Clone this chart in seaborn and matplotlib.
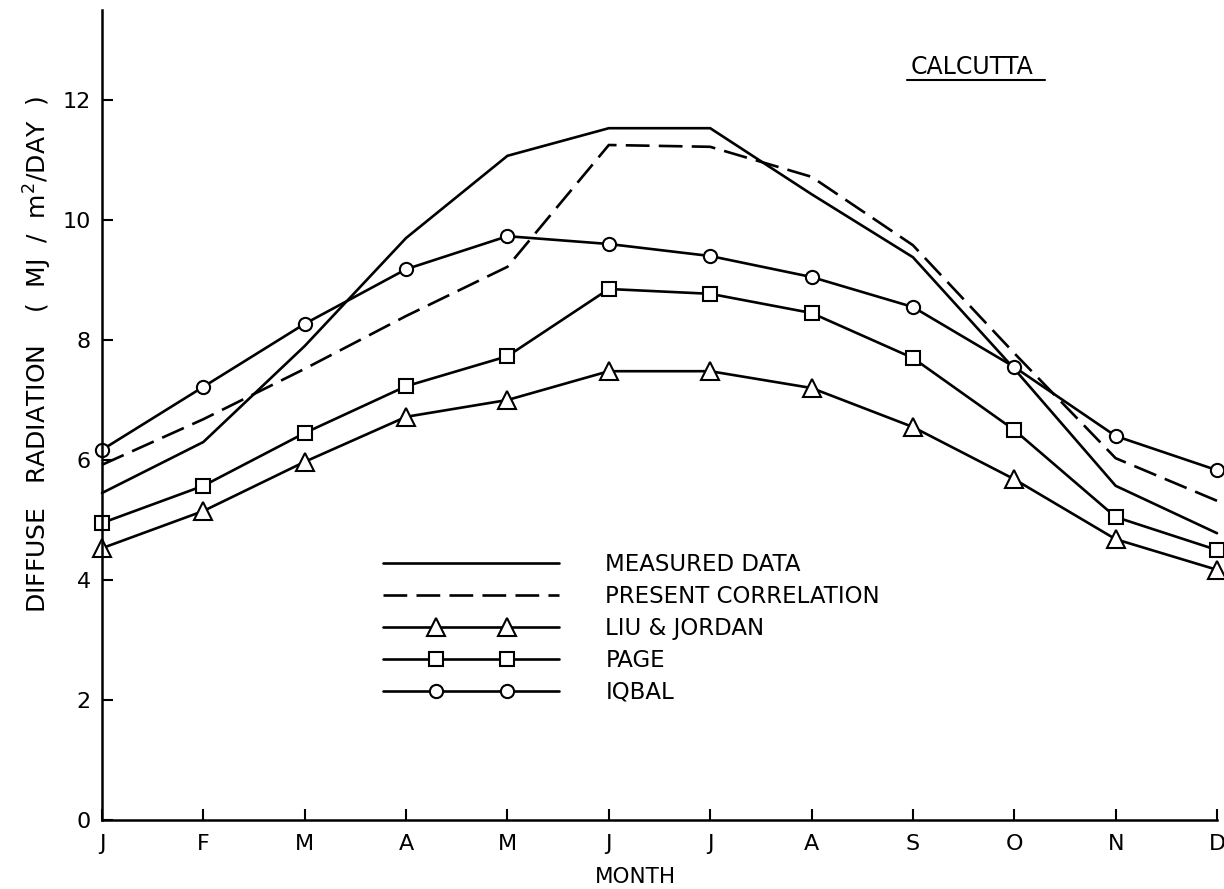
import numpy as np
import pandas as pd
import matplotlib
matplotlib.use("Agg")
import matplotlib.pyplot as plt
from matplotlib.lines import Line2D
from matplotlib.legend_handler import HandlerLine2D
from matplotlib.transforms import IdentityTransform
import seaborn as sns

# ---- data ----
months = ["J", "F", "M", "A", "M", "J", "J", "A", "S", "O", "N", "D"]
measured = [5.45, 6.30, 7.90, 9.70, 11.07, 11.53, 11.53, 10.43, 9.38, 7.52, 5.57, 4.78]
present = [5.92, 6.68, 7.52, 8.40, 9.22, 11.25, 11.22, 10.72, 9.58, 7.78, 6.03, 5.32]
liu_jordan = [4.53, 5.15, 5.97, 6.72, 7.00, 7.48, 7.48, 7.20, 6.55, 5.68, 4.68, 4.17]
page = [4.95, 5.57, 6.45, 7.23, 7.73, 8.85, 8.77, 8.45, 7.70, 6.50, 5.05, 4.50]
iqbal = [6.17, 7.22, 8.27, 9.18, 9.73, 9.60, 9.40, 9.05, 8.55, 7.55, 6.40, 5.83]
yticks = [0, 2, 4, 6, 8, 10, 12]
series_labels = ["MEASURED DATA", "PRESENT CORRELATION", "LIU & JORDAN", "PAGE", "IQBAL"]

sns.set_theme(style="ticks")
plt.rcParams["font.family"] = ["DejaVu Sans"]

W, H = 1224, 889
fig = plt.figure(figsize=(W / 100, H / 100), dpi=100)
ax = fig.add_axes([102 / W, 69 / H, 1115 / W, 810 / H])

x = np.arange(len(months))
LW = 1.9
DASH = (0, (9, 3.5))
common = dict(ax=ax, color="black", lw=LW, clip_on=False, legend=False)
mk = dict(mfc="white", mec="black", mew=1.5)

sns.lineplot(x=x, y=measured, **common)
sns.lineplot(x=x, y=present, ls=DASH, **common)
sns.lineplot(x=x, y=liu_jordan, marker="^", ms=12.5, **mk, **common)
sns.lineplot(x=x, y=page, marker="s", ms=9.5, **mk, **common)
sns.lineplot(x=x, y=iqbal, marker="o", ms=9.5, **mk, **common)

ax.set_xlim(0, 11)
ax.set_ylim(0, 13.5)
ax.set_xticks(x)
ax.set_xticklabels(months)
ax.set_yticks(yticks)
ax.set_yticklabels([str(t) for t in yticks])
sns.despine(ax=ax)
for s in ["left", "bottom"]:
    ax.spines[s].set_linewidth(1.8)
    ax.spines[s].set_color("black")
ax.tick_params(axis="both", direction="in", length=8, width=1.5, colors="black",
               labelsize=16)
ax.tick_params(axis="y", pad=8)
ax.tick_params(axis="x", pad=10)
ax.grid(False)

ax.set_xlabel("MONTH", fontsize=15.5, color="black")
ax.xaxis.set_label_coords((635 - 102) / 1115, -0.058)
ax.set_ylabel("DIFFUSE   RADIATION    (  MJ  /  m$^2$/DAY  )", fontsize=18, color="black")
ax.yaxis.set_label_coords((54 - 102) / 1115, (820 - 355) / 810)

# ---- legend ----
h_meas = Line2D([], [], color="black", lw=LW)
h_pres = Line2D([], [], color="black", lw=LW, ls=DASH)
handles = [h_meas, h_pres]
hmap = {}
for m, ms in [("^", 12.5), ("s", 9.5), ("o", 9.5)]:
    ln = Line2D([], [], color="black", lw=LW)
    mkh = Line2D([], [], ls="none", marker=m, ms=ms, **mk)
    hmap[mkh] = HandlerLine2D(numpoints=2, marker_pad=2.3)
    handles.append((ln, mkh))
leg = ax.legend(handles, series_labels, handler_map=hmap, frameon=False,
                loc="upper left", bbox_to_anchor=((383 - 102) / 1115, (820 - 553) / 810),
                fontsize=16.5, handlelength=7.7, handletextpad=2.0,
                labelspacing=0.39, borderpad=0, borderaxespad=0)
for t in leg.get_texts():
    t.set_color("black")

# ---- location title, underlined ----
tx, ty = 0.78, (820 - 74) / 810
ax.text(tx, ty, "CALCUTTA", transform=ax.transAxes, ha="center", va="baseline",
        fontsize=17, color="black")
fig.canvas.draw()
px, py = ax.transAxes.transform((tx, ty))
fig.add_artist(Line2D([907, 1045], [py - 6, py - 6], transform=IdentityTransform(),
                      color="black", lw=1.5))

fig.savefig("out.png", dpi=100, facecolor="white")
